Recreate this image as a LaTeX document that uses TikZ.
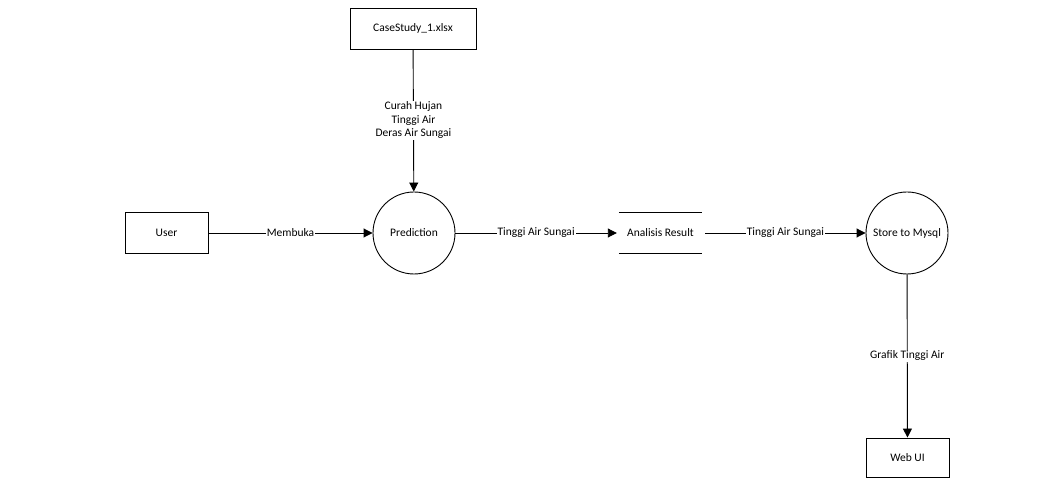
\documentclass[tikz,border=0pt]{standalone}
\usepackage{fontspec}
\setmainfont{Carlito}
\usetikzlibrary{arrows.meta}

\begin{document}
\begin{tikzpicture}[x=1pt, y=1pt, font=\fontsize{11.5}{13.5}\selectfont]
\tikzset{BoxStyle/.style = {draw, line width= 0.9pt, minimum width= 83pt, minimum height= 41pt, inner sep= 0pt},
    ProcessStyle/.style = {draw, circle, line width= 0.9pt, minimum size= 82pt, inner sep= 0pt},
    StoreStyle/.style = {minimum width= 83pt, minimum height= 40pt, inner sep= 0pt},
    FlowStyle/.style = {-{Triangle[length= 9pt, width= 9pt]}, line width= 0.9pt},
    LabelStyle/.style = {fill= white, inner sep= 1pt, align= center, midway}
}
    \useasboundingbox (0,0) rectangle (1061,479);

    % Draw entities and processes
    \node[BoxStyle, minimum width= 126pt] (data) at (413,450.5) {CaseStudy\_1.xlsx};
    \node[BoxStyle] (user) at (166.5,246) {User};
    \node[ProcessStyle] (pred) at (414,246) {Prediction};
    \node[StoreStyle] (result) at (660.5,246) {Analisis Result};
    \node[ProcessStyle] (store) at (907,246) {Store to Mysql};
    \node[BoxStyle, minimum height= 39pt] (web) at (907.5,21.5) {Web UI};

    % Draw data store lines
    \draw[line width= 0.9pt] (result.north west) -- (result.north east);
    \draw[line width= 0.9pt] (result.south west) -- (result.south east);

    % Draw flows
    \draw[FlowStyle] (data) -- (pred) node[LabelStyle] {Curah Hujan\\Tinggi Air\\Deras Air Sungai};
    \draw[FlowStyle] (user) -- (pred) node[LabelStyle] {Membuka};
    \draw[FlowStyle] (pred) -- ([xshift=-2pt]result.west) node[LabelStyle] {Tinggi Air Sungai};
    \draw[FlowStyle] ([xshift=3pt]result.east) -- (store) node[LabelStyle] {Tinggi Air Sungai};
    \draw[FlowStyle] (store) -- (web) node[LabelStyle] {Grafik Tinggi Air};
\end{tikzpicture}
\end{document}
